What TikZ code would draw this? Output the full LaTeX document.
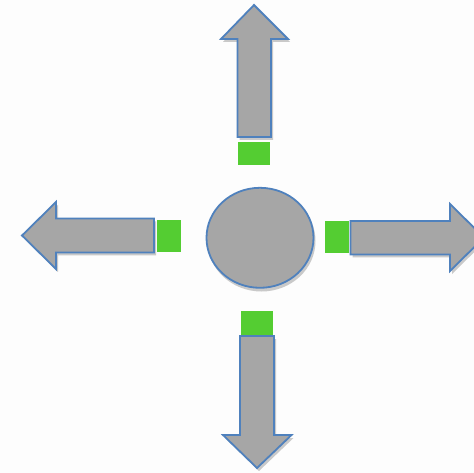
\documentclass[tikz,border=0pt]{standalone}
\begin{document}
\begin{tikzpicture}[x=1pt,y=-1pt,
  grayshape/.style={fill=shapegray,draw=edgeblue,line width=1.8pt,line join=miter},
  shade/.style={fill=shadowgray,draw=none},
  greenbox/.style={fill=boxgreen,draw=none}]
\definecolor{shapegray}{HTML}{A6A6A6}
\definecolor{edgeblue}{HTML}{4F81BD}
\definecolor{shadowgray}{HTML}{C9C9C9}
\definecolor{boxgreen}{HTML}{54CD32}
\definecolor{bg}{HTML}{FDFDFD}
\useasboundingbox (0,0) rectangle (474,473);
\clip (0,0) rectangle (474,473);
\fill[bg] (0,0) rectangle (474,473);
% up arrow
\def\uparr{(254,5) -- (288,39) -- (271,39) -- (271,137) -- (237.5,137) -- (237.5,39) -- (221,39) -- cycle}
\fill[shade,shift={(2,3)}] \uparr;
\draw[grayshape] \uparr;
% left arrow
\def\leftarr{(22,235.5) -- (56,202) -- (56,218.5) -- (154,218.5) -- (154,252.5) -- (56,252.5) -- (56,269) -- cycle}
\fill[shade,shift={(2,3)}] \leftarr;
\draw[grayshape] \leftarr;
% right arrow
\def\rightarr{(484,237.5) -- (450,271) -- (450,254.5) -- (350.5,254.5) -- (350.5,221) -- (450,221) -- (450,204) -- cycle}
\fill[shade,shift={(2,3)}] \rightarr;
\draw[grayshape] \rightarr;
% down arrow
\def\downarr{(257,468) -- (291.5,435) -- (274,435) -- (274,336) -- (240,336) -- (240,435) -- (223,435) -- cycle}
\fill[shade,shift={(2,3)}] \downarr;
\draw[grayshape] \downarr;
% circle
\fill[shade] (261.5,241) ellipse [x radius=54,y radius=50.5];
\draw[grayshape] (260,237.8) ellipse [x radius=53.5,y radius=50];
% green boxes
\node[greenbox,minimum width=32pt,minimum height=23pt,inner sep=0pt] (gtop) at (254,153.2) {};
\node[greenbox,minimum width=24pt,minimum height=32pt,inner sep=0pt] (gleft) at (169,236) {};
\node[greenbox,minimum width=24pt,minimum height=32pt,inner sep=0pt] (gright) at (337,237.5) {};
\node[greenbox,minimum width=32pt,minimum height=24pt,inner sep=0pt] (gbottom) at (257,323) {};
\end{tikzpicture}
\end{document}
